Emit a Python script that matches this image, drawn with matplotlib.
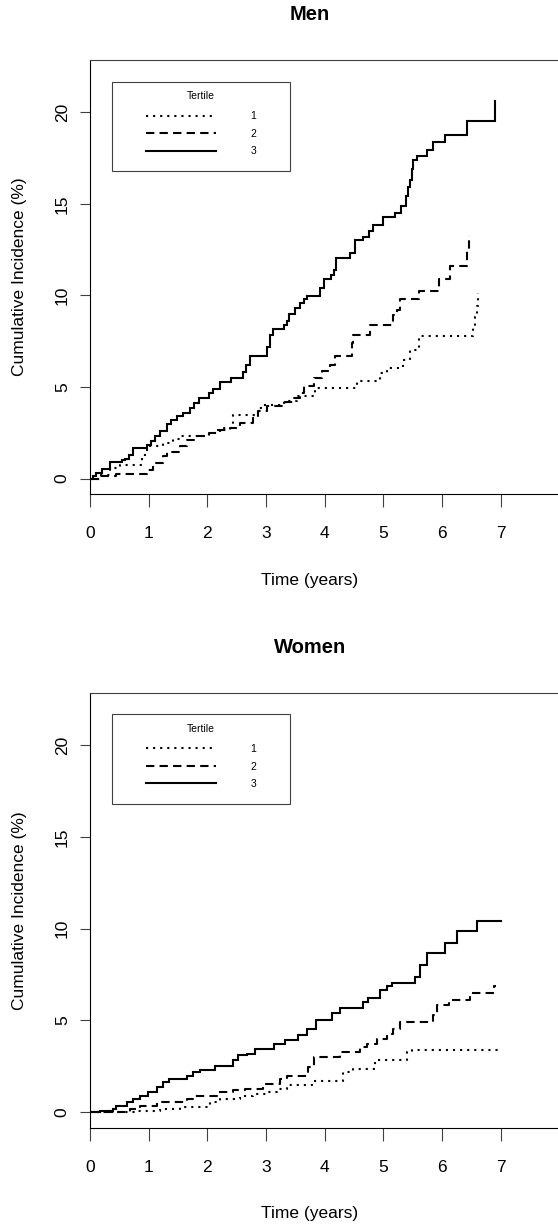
import numpy as np
import matplotlib
matplotlib.use("Agg")
import matplotlib.pyplot as plt
from matplotlib.patches import Rectangle

plt.rcParams['font.family'] = ['Liberation Sans', 'DejaVu Sans']

# Cumulative incidence step curves (time in years, incidence in %) ==========

men_t1 = [0.00, 0.17, 0.34, 0.51, 0.88, 0.97, 1.25, 1.42, 1.53, 2.02, 2.22, 2.44, 2.87, 2.95,
          3.30, 3.52, 3.84, 4.55, 4.94, 5.06, 5.34, 5.45, 5.60, 6.53, 6.56, 6.60, 6.62]
men_y1 = [0.00, 0.22, 0.58, 0.76, 1.31, 1.76, 1.95, 2.16, 2.35, 2.49, 2.76, 3.49, 3.85, 4.04,
          4.22, 4.49, 4.95, 5.31, 5.76, 6.04, 6.49, 7.04, 7.76, 8.30, 8.80, 9.40, 10.14]

men_t2 = [0.00, 0.17, 0.45, 0.97, 1.08, 1.25, 1.31, 1.53, 1.65, 1.82, 2.02, 2.16, 2.39, 2.56,
          2.78, 2.87, 3.01, 3.32, 3.47, 3.58, 3.64, 3.81, 3.95, 4.09, 4.18, 4.46, 4.49, 4.77,
          5.17, 5.23, 5.28, 5.60, 5.94, 6.14, 6.42, 6.46]
men_y2 = [0.00, 0.16, 0.27, 0.49, 0.85, 1.22, 1.45, 1.76, 2.13, 2.35, 2.50, 2.67, 2.76, 3.04,
          3.30, 3.67, 3.95, 4.20, 4.40, 4.67, 5.04, 5.49, 5.85, 6.20, 6.67, 7.40, 7.85, 8.40,
          8.95, 9.20, 9.78, 10.24, 10.87, 11.60, 12.50, 13.30]

men_t3 = [0.00, 0.05, 0.11, 0.20, 0.34, 0.55, 0.60, 0.67, 0.74, 0.97, 1.04, 1.11, 1.20, 1.31,
          1.38, 1.48, 1.58, 1.70, 1.78, 1.85, 2.02, 2.10, 2.22, 2.41, 2.60, 2.66, 2.72, 3.01,
          3.06, 3.12, 3.30, 3.35, 3.40, 3.50, 3.58, 3.65, 3.69, 3.92, 3.98, 4.10, 4.15, 4.20,
          4.43, 4.52, 4.66, 4.75, 4.83, 5.00, 5.20, 5.30, 5.38, 5.42, 5.45, 5.48, 5.51, 5.57,
          5.74, 5.85, 6.05, 6.42, 6.91]
men_y3 = [0.00, 0.15, 0.31, 0.50, 0.90, 1.00, 1.07, 1.30, 1.67, 1.85, 2.05, 2.35, 2.60, 2.98,
          3.20, 3.40, 3.60, 3.85, 4.10, 4.40, 4.67, 4.90, 5.25, 5.49, 5.80, 6.20, 6.70, 7.20,
          7.85, 8.16, 8.40, 8.58, 9.00, 9.30, 9.58, 9.80, 9.96, 10.42, 10.90, 11.10, 11.40, 12.05,
          12.30, 13.05, 13.20, 13.50, 13.87, 14.30, 14.50, 14.86, 15.40, 15.90, 16.30, 16.90, 17.40, 17.60,
          17.95, 18.35, 18.77, 19.50, 20.60]

women_t1 = [0.00, 0.80, 1.19, 1.53, 2.05, 2.22, 2.56, 2.78, 3.01, 3.18, 3.35, 3.78, 4.32, 4.49,
            4.86, 5.40, 5.48, 7.00]
women_y1 = [0.00, 0.09, 0.18, 0.27, 0.55, 0.73, 0.86, 1.00, 1.09, 1.28, 1.51, 1.73, 2.19, 2.37,
            2.83, 3.28, 3.38, 3.38]

women_t2 = [0.00, 0.68, 0.85, 1.14, 1.65, 1.76, 2.16, 2.44, 2.64, 2.95, 3.24, 3.35, 3.72, 3.81,
            4.26, 4.60, 4.72, 4.89, 5.06, 5.17, 5.28, 5.85, 5.91, 6.11, 6.48, 6.88, 6.92]
women_y2 = [0.00, 0.18, 0.36, 0.55, 0.73, 0.88, 1.09, 1.19, 1.28, 1.55, 1.82, 2.00, 2.46, 3.01,
            3.28, 3.56, 3.74, 4.01, 4.29, 4.56, 4.93, 5.29, 5.84, 6.11, 6.48, 6.88, 6.88]

women_t3 = [0.00, 0.17, 0.40, 0.45, 0.63, 0.74, 0.85, 0.99, 1.14, 1.25, 1.34, 1.65, 1.76, 1.88,
            2.13, 2.44, 2.53, 2.67, 2.81, 3.13, 3.32, 3.55, 3.69, 3.86, 4.12, 4.26, 4.66, 4.74,
            4.94, 5.06, 5.14, 5.54, 5.63, 5.74, 6.05, 6.25, 6.59, 7.00]
women_y3 = [0.00, 0.09, 0.18, 0.36, 0.55, 0.73, 0.91, 1.09, 1.37, 1.64, 1.82, 2.00, 2.19, 2.28,
            2.52, 2.83, 3.10, 3.19, 3.47, 3.74, 3.92, 4.20, 4.56, 5.02, 5.38, 5.66, 6.02, 6.20,
            6.66, 6.88, 7.06, 7.35, 8.03, 8.67, 9.20, 9.89, 10.40, 10.40]

tertiles = ["1", "2", "3"]
xticks = [0, 1, 2, 3, 4, 5, 6, 7]
yticks = [0, 5, 10, 15, 20]

W, H = 558, 1225
fig = plt.figure(figsize=(W / 100, H / 100), dpi=100)

dotted = (0, (1.0, 2.4))
dashed = (0, (4.0, 2.5))
styles = [dotted, dashed, "-"]
frame_col = "#404040"


def panel(top, bottom, title, curves):
    ax = fig.add_axes([90 / W, 1 - bottom / H, 469.4 / W, (bottom - top) / H])
    for (t, y), ls, lab in zip(curves, styles, tertiles):
        ax.step(t, y, where="post", color="black", lw=1.5, linestyle=ls, label=lab,
                solid_joinstyle="miter")
    ax.set_xlim(0, 8)
    ax.set_ylim(-0.84, 22.85)
    ax.set_xticks(xticks)
    ax.set_yticks(yticks)
    ax.tick_params(axis="x", length=9, width=0.8, pad=14, labelsize=12.5, color=frame_col)
    ax.tick_params(axis="y", length=7.5, width=0.8, pad=7, labelsize=12.5, color=frame_col)
    plt.setp(ax.get_yticklabels(), rotation=90, va="center")
    for s in ax.spines.values():
        s.set_linewidth(0.8)
        s.set_color(frame_col)
    ax.spines["left"].set_color("black")
    ax.spines["bottom"].set_color("black")

    # legend box like R's legend()
    ax.add_patch(Rectangle((0.046, 0.745), 0.38, 0.205, transform=ax.transAxes,
                           facecolor="none", edgecolor=frame_col, lw=0.8))
    ax.text(0.2365, 0.917, "Tertile", transform=ax.transAxes, ha="center", va="center",
            fontsize=7.5)
    leg = ax.legend(loc="upper left", bbox_to_anchor=(0.1193, 0.882), borderaxespad=0,
                    borderpad=0, frameon=False, fontsize=7.5, handlelength=6.7,
                    handletextpad=3.3, labelspacing=0.72)
    for line in leg.get_lines():
        line.set_linewidth(1.5)

    mid = (top + bottom) / 2
    fig.text(310 / W, 1 - (top - 45) / H, title, ha="center", va="center",
             fontsize=14.5, fontweight="bold")
    fig.text(310 / W, 1 - (bottom + 86) / H, "Time (years)", ha="center", va="center",
             fontsize=12.5)
    fig.text(20 / W, 1 - mid / H, "Cumulative Incidence (%)", ha="center", va="center",
             rotation=90, fontsize=12.5)
    return ax


panel(60, 494, "Men", [(men_t1, men_y1), (men_t2, men_y2), (men_t3, men_y3)])
panel(692.7, 1127.7, "Women", [(women_t1, women_y1), (women_t2, women_y2), (women_t3, women_y3)])

fig.savefig("out.png", dpi=100)
plt.close()
